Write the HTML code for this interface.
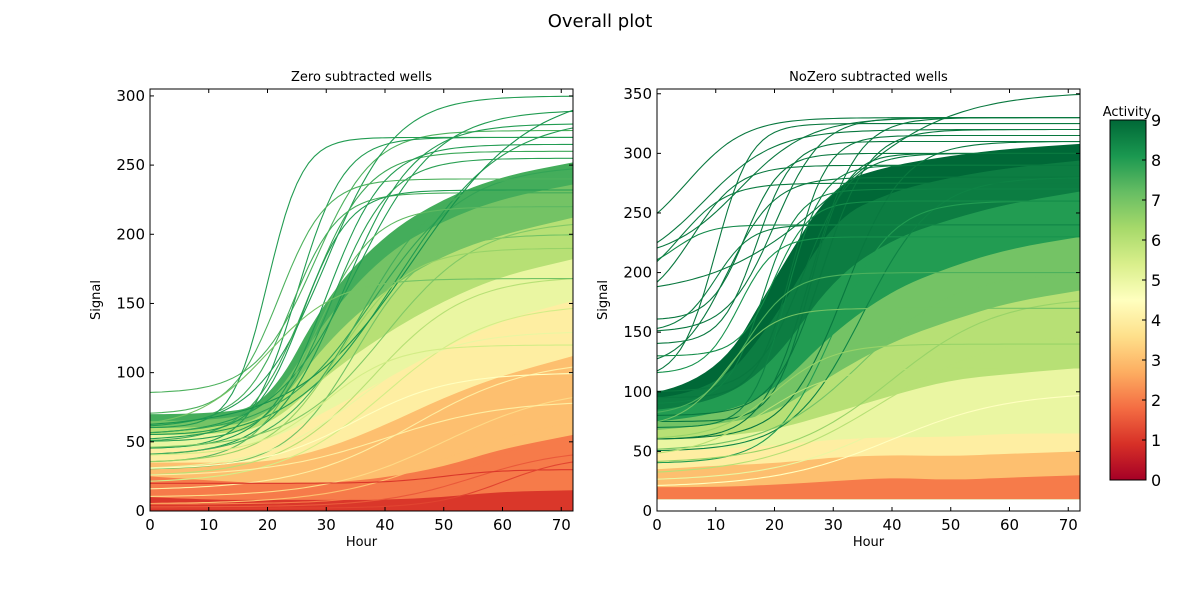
<!DOCTYPE html>
<html><head><meta charset="utf-8"><style>
body{margin:0;background:#fff;font-family:"Liberation Sans","DejaVu Sans",sans-serif}
svg text{font-family:"DejaVu Sans","Liberation Sans",sans-serif}
</style></head><body>
<svg id="chart" width="1200" height="600" viewBox="0 0 1200 600" xmlns="http://www.w3.org/2000/svg">
<defs>
<linearGradient id="cbgrad" x1="0" y1="1" x2="0" y2="0">
<stop offset="0" stop-color="#a50026"/><stop offset="0.1" stop-color="#d73027"/><stop offset="0.2" stop-color="#f46d43"/><stop offset="0.3" stop-color="#fdae61"/><stop offset="0.4" stop-color="#fee08b"/><stop offset="0.5" stop-color="#ffffbf"/><stop offset="0.6" stop-color="#d9ef8b"/><stop offset="0.7" stop-color="#a6d96a"/><stop offset="0.8" stop-color="#66bd63"/><stop offset="0.9" stop-color="#1a9850"/><stop offset="1" stop-color="#006837"/>
</linearGradient>
<clipPath id="clipL"><rect x="150" y="89" width="423" height="422"/></clipPath>
<clipPath id="clipR"><rect x="657" y="89" width="423" height="422"/></clipPath>
</defs>
<text x="600" y="27" font-size="18" text-anchor="middle">Overall plot</text>
</svg>
<script>
// ---- data ----
const bandX = [0,10,20,30,40,50,60,72];
const leftBandActs = [1,2,3,4,5,6,7,7.6];
const leftBandTops = [
 [10,8,8,8,8,10,14,15],
 [25,22,20,20,24,32,45,55],
 [35,35,35,45,62,82,98,112],
 [45,45,50,72,95,118,138,152],
 [55,55,60,98,128,152,170,182],
 [60,60,66,122,160,185,200,212],
 [65,65,72,140,186,210,226,236],
 [70,70,76,155,200,226,242,252]
];
const leftBandBase = [0,0,0,0,0,0,0,0];
const leftCurves = [
 [85,275,28,5,7.5],[60,300,30,6,8],[55,290,35,7,8],[45,270,25,4,8],[50,260,27,5,7.7],
 [40,280,33,6,8],[70,240,22,4,7.5],[65,230,24,4,7.6],[55,250,38,8,7.8],[50,285,42,9,8],
 [45,265,30,5,8],[60,305,45,10,8.2],[40,245,36,7,7.6],[35,220,28,5,7.3],[60,270,20,3,8],
 [50,255,31,5,7.9],[30,200,35,6,7],[45,210,40,8,6.8],[35,190,32,6,6.5],[25,170,38,8,6],
 [20,150,40,9,5.5],[30,130,35,8,5],[15,110,45,10,4],[10,90,50,10,3.5],[5,70,50,10,3],
 [5,60,55,8,2],[3,45,55,8,1.5],[20,30,50,5,1],[2,40,60,6,1.2],[60,168,20,6,7],
 [55,232,26,4,8],[40,120,30,6,5.5],[30,100,35,8,4.5],[25,80,40,10,4]
];
const rightBandActs = [2,3,4,5,6,7,8,8.6,9];
const rightBandTops = [
 [20,20,22,25,28,26,28,30],
 [35,38,40,45,47,46,48,50],
 [50,52,55,60,62,62,65,65],
 [60,62,68,82,97,110,115,120],
 [68,72,82,115,142,160,175,185],
 [75,80,100,150,185,205,220,230],
 [85,90,125,195,228,245,258,268],
 [95,100,160,245,268,280,288,294],
 [100,110,195,275,290,298,304,308]
];
const rightBandBase = [10,10,10,10,10,10,10,10];
const rightCurves = [
 [220,330,5,5,9],[200,320,8,6,9],[180,352,30,10,9],[150,330,20,4,9],[100,300,25,4,8.8],
 [80,320,28,4,8.8],[70,290,22,3,8.5],[120,280,12,4,8.7],[60,310,32,5,9],[90,270,18,3,8.5],
 [150,240,10,3,8.6],[200,240,3,3,8.4],[160,300,15,3,8.8],[50,280,35,6,8.5],[40,260,30,5,8],
 [60,330,26,4,9],[110,325,10,3,9],[130,260,20,3,8.3],[50,200,35,8,7],[40,180,40,9,6.5],
 [30,150,38,10,6],[25,120,40,10,5],[20,100,40,10,4.5],[170,290,6,4,8.9],[140,310,17,3,9],
 [95,315,23,3,9],[75,300,26,3,8.9],[185,275,4,4,8.6],[115,230,14,3,8.2],[210,330,14,6,9],
 [60,140,20,5,6.5],[45,120,18,6,6],[80,200,15,4,7.5],[70,170,12,4,7]
];
const xTicks = [0,10,20,30,40,50,60,70];
const leftYTicks = [0,50,100,150,200,250,300];
const rightYTicks = [0,50,100,150,200,250,300,350];
const cbTicks = [0,1,2,3,4,5,6,7,8,9];
const cmapStops = ["#a50026","#d73027","#f46d43","#fdae61","#fee08b","#ffffbf","#d9ef8b","#a6d96a","#66bd63","#1a9850","#006837"];

// ---- helpers ----
const NS="http://www.w3.org/2000/svg";
const svg=document.getElementById('chart');
function el(tag,attrs,parent){const e=document.createElementNS(NS,tag);for(const k in attrs)e.setAttribute(k,attrs[k]);(parent||svg).appendChild(e);return e;}
function hex(c){return [parseInt(c.slice(1,3),16),parseInt(c.slice(3,5),16),parseInt(c.slice(5,7),16)];}
function cmap(v){const t=Math.max(0,Math.min(1,v/9))*10;const i=Math.min(9,Math.floor(t));const f=t-i;const a=hex(cmapStops[i]),b=hex(cmapStops[i+1]);return 'rgb('+a.map((x,j)=>Math.round(x+(b[j]-x)*f)).join(',')+')';}
function smooth(pts){ // pts: [[x,y],...] -> path through midpoints
 let d='M'+pts[0][0]+','+pts[0][1];
 for(let i=1;i<pts.length-1;i++){const mx=(pts[i][0]+pts[i+1][0])/2,my=(pts[i][1]+pts[i+1][1])/2;d+=' Q'+pts[i][0]+','+pts[i][1]+' '+mx+','+my;}
 const l=pts[pts.length-1];return d+' L'+l[0]+','+l[1];
}

function panel(cfg){
 const {x0,y0,w,h,xmax,ymax,clip,bandTops,bandActs,bandBase,curves,yTicks,title,prefix}=cfg;
 const sx=v=>x0+v/xmax*w, sy=v=>y0+h-v/ymax*h;
 const g=el('g',{'clip-path':'url(#'+clip+')'});
 
 
 for(let b=bandTops.length-1;b>=0;b--){
  let d=smooth(bandX.map((x,i)=>[sx(x),sy(bandTops[b][i])]));
  for(let i=bandX.length-1;i>=0;i--)d+=' L'+sx(bandX[i])+','+sy(bandBase[i]);
  const p=el('path',{d:d+'Z',fill:cmap(bandActs[b])},g);
  
  
 }
 curves.forEach((c,ci)=>{
  const pts=[];for(let x=0;x<=xmax;x+=1){const y=c[0]+(c[1]-c[0])/(1+Math.exp(-(x-c[2])/c[3]));pts.push(sx(x).toFixed(1)+','+sy(y).toFixed(1));}
  const p=el('polyline',{points:pts.join(' '),fill:'none',stroke:cmap(Math.min(c[4],8.7)),'stroke-width':1.1},g);
  
  
 });
 const fr=el('rect',{x:x0,y:y0,width:w,height:h,fill:'none',stroke:'#000','stroke-width':1});
 
 
 xTicks.forEach(t=>{const X=sx(t);el('line',{x1:X,x2:X,y1:y0+h,y2:y0+h-4,stroke:'#000'});el('line',{x1:X,x2:X,y1:y0,y2:y0+4,stroke:'#000'});
  const tx=el('text',{x:X,y:y0+h+19,'font-size':15,'text-anchor':'middle'});tx.textContent=t;
  
  });
 yTicks.forEach(t=>{const Y=sy(t);el('line',{x1:x0,x2:x0+4,y1:Y,y2:Y,stroke:'#000'});el('line',{x1:x0+w,x2:x0+w-4,y1:Y,y2:Y,stroke:'#000'});
  const tx=el('text',{x:x0-5,y:Y+5,'font-size':15,'text-anchor':'end'});tx.textContent=t;
  
  });
 const tt=el('text',{x:x0+w/2,y:y0-8,'font-size':13,'text-anchor':'middle'});tt.textContent=title;
 
 
 const xl=el('text',{x:x0+w/2,y:y0+h+35,'font-size':13,'text-anchor':'middle'});xl.textContent='Hour';
 
 
 const yl=el('text',{x:0,y:0,'font-size':13,'text-anchor':'middle',transform:'translate('+(x0-50)+','+(y0+h/2)+') rotate(-90)'});yl.textContent='Signal';
 
 
}
panel({x0:150,y0:89,w:423,h:422,xmax:72,ymax:305,clip:'clipL',bandTops:leftBandTops,bandActs:leftBandActs,bandBase:leftBandBase,curves:leftCurves,yTicks:leftYTicks,title:'Zero subtracted wells',prefix:'left'});
panel({x0:657,y0:89,w:423,h:422,xmax:72,ymax:354,clip:'clipR',bandTops:rightBandTops,bandActs:rightBandActs,bandBase:rightBandBase,curves:rightCurves,yTicks:rightYTicks,title:'NoZero subtracted wells',prefix:'right'});

// colorbar
const cb=el('rect',{x:1110,y:120,width:36,height:360,fill:'url(#cbgrad)',stroke:'#000','stroke-width':1});


cbTicks.forEach(t=>{const Y=480-t/9*360;el('line',{x1:1146,x2:1142,y1:Y,y2:Y,stroke:'#000'});
 const tx=el('text',{x:1151,y:Y+6,'font-size':16});tx.textContent=t;
 
 });
const cl=el('text',{x:1127,y:116,'font-size':13,'text-anchor':'middle'});cl.textContent='Activity';


</script>
</body></html>
